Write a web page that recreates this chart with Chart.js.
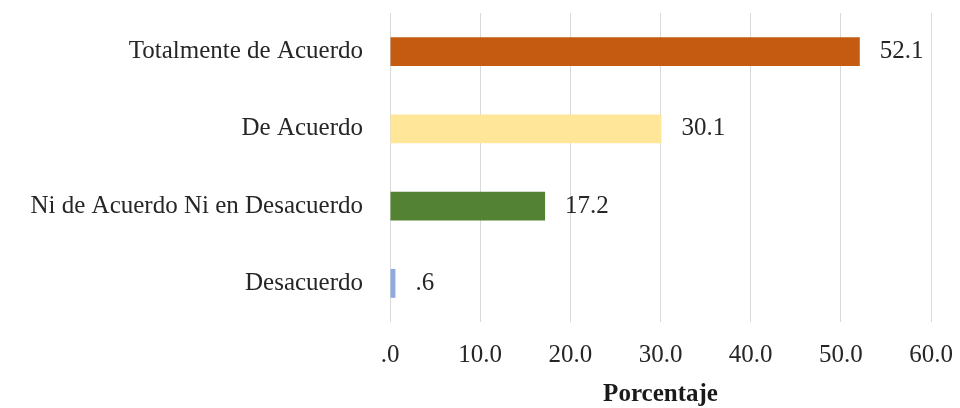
<!DOCTYPE html>
<html>
<head>
<meta charset="utf-8">
<script src="https://cdn.jsdelivr.net/npm/chart.js@4.4.0/dist/chart.umd.min.js"></script>
<style>
  html, body { margin: 0; padding: 0; background: #fff; }
  #wrap { width: 960px; height: 408px; }
</style>
</head>
<body>
<div id="wrap"><canvas id="barChart"></canvas></div>
<script>
// Chart data
const categories = ['Totalmente de Acuerdo', 'De Acuerdo', 'Ni de Acuerdo Ni en Desacuerdo', 'Desacuerdo'];
const percentages = [52.1, 30.1, 17.2, 0.6];
const barColors = ['#C55A11', '#FFE699', '#548235', '#8FAADC'];
const xTicks = [0, 10, 20, 30, 40, 50, 60];
const axisTitle = 'Porcentaje';

const serif = "'Liberation Serif', 'Times New Roman', serif";

// Numbers drawn the Excel way: .0, 10.0, .6
function fmt(v) {
    return Number(v).toFixed(1).replace(/^0\./, '.');
}

// Small plugin to write the value next to each bar
const valueLabels = {
    id: 'valueLabels',
    afterDatasetsDraw(chart) {
        const c = chart.ctx;
        const meta = chart.getDatasetMeta(0);
        c.save();
        c.font = '25px ' + serif;
        c.fillStyle = '#262626';
        c.textAlign = 'left';
        c.textBaseline = 'middle';
        meta.data.forEach((bar, i) => {
            c.fillText(fmt(percentages[i]), bar.x + 20, bar.y);
        });
        c.restore();
    }
};

const ctx = document.getElementById('barChart').getContext('2d');
const barChart = new Chart(ctx, {
    type: 'bar',
    data: {
        labels: categories,
        datasets: [{
            data: percentages,
            backgroundColor: barColors,
            borderWidth: 0,
            barPercentage: 0.374,
            categoryPercentage: 1
        }]
    },
    options: {
        indexAxis: 'y',
        responsive: true,
        maintainAspectRatio: false,
        animation: false,
        layout: { padding: { top: 13, right: 29, bottom: 0, left: 0 } },
        plugins: {
            legend: { display: false },
            tooltip: { enabled: false }
        },
        scales: {
            x: {
                min: 0,
                max: 60,
                afterBuildTicks: (scale) => { scale.ticks = xTicks.map(v => ({ value: v })); },
                afterFit: (scale) => {
                    scale.height = 86;
                    scale.paddingLeft = 0;
                    scale.paddingRight = 0;
                },
                grid: { color: '#d9d9d9', drawTicks: false },
                border: { display: false },
                ticks: {
                    padding: 18,
                    color: '#262626',
                    font: { family: serif, size: 25 },
                    callback: (v) => fmt(v)
                },
                title: {
                    display: true,
                    text: axisTitle,
                    color: '#1a1a1a',
                    font: { family: serif, size: 25, weight: 'bold' },
                    padding: { top: 4, bottom: -2 }
                }
            },
            y: {
                grid: { display: false, drawTicks: false },
                border: { display: false },
                afterFit: (scale) => {
                    scale.width = 390;
                    scale.paddingTop = 0;
                    scale.paddingBottom = 0;
                },
                ticks: {
                    padding: 27,
                    color: '#262626',
                    font: { family: serif, size: 25 }
                }
            }
        }
    },
    plugins: [valueLabels]
});
</script>
</body>
</html>
